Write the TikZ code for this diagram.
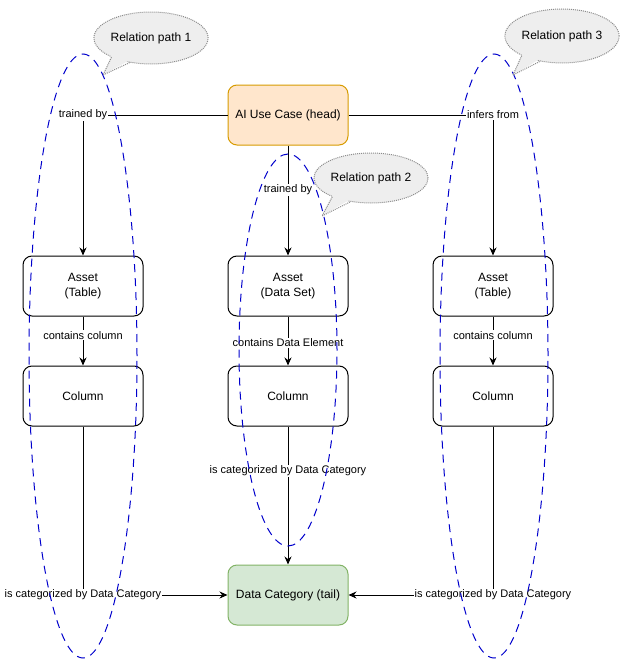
\documentclass[tikz,border=0pt]{standalone}
\usepackage{fontspec}
\setmainfont{Liberation Sans}
\usetikzlibrary{arrows.meta,shapes.geometric,calc}
\definecolor{headfill}{HTML}{FFE6CC}
\definecolor{headdraw}{HTML}{D79B00}
\definecolor{tailfill}{HTML}{D5E8D4}
\definecolor{taildraw}{HTML}{82B366}
\definecolor{pathblue}{HTML}{0000CC}
\definecolor{callfill}{HTML}{EEEEEE}
\definecolor{calldraw}{HTML}{8C8C8C}
\begin{document}
\begin{tikzpicture}[x=1pt,y=-1pt,
 box/.style={draw=black, rounded corners=9pt, minimum width=120pt, minimum height=60pt, align=center, font=\fontsize{12}{15}\selectfont, line width=1pt, inner sep=0},
 lbl/.style={fill=white, font=\fontsize{11}{13}\selectfont, inner sep=1pt},
 conn/.style={draw, line width=1pt, -{Stealth[length=8pt,width=7pt]}},
 pathring/.style={draw=pathblue, dash pattern=on 8pt off 6pt, ellipse, inner sep=0, line width=1pt},
 bubble/.style={ellipse, fill=callfill, draw=calldraw, dash pattern=on 1pt off 1pt, line width=1pt, minimum width=108pt, minimum height=52pt, font=\fontsize{12}{14}\selectfont, inner sep=0},
 tailline/.style={draw=calldraw, dash pattern=on 1pt off 1pt, line width=1pt}
]
\useasboundingbox (0,0) rectangle (629,661);

% nodes
\node[box, fill=headfill, draw=headdraw] (head) at (288,115) {AI Use Case (head)};
\node[box] (assetL) at (83,286) {Asset\\(Table)};
\node[box] (assetM) at (288,286) {Asset\\(Data Set)};
\node[box] (assetR) at (493,286) {Asset\\(Table)};
\node[box] (colL) at (83,396) {Column};
\node[box] (colM) at (288,396) {Column};
\node[box] (colR) at (493,396) {Column};
\node[box, fill=tailfill, draw=taildraw] (tail) at (288,595) {Data Category (tail)};

% connectors
\draw[conn] (head.west) -| node[lbl, pos=0.5] {trained by} (assetL.north);
\draw[conn] (head.east) -| node[lbl, pos=0.5] {infers from} (assetR.north);
\draw[conn] (head.south) -- node[lbl, pos=0.405] {trained by} (assetM.north);
\draw[conn] (assetL.south) -- node[lbl, pos=0.38] {contains column} (colL.north);
\draw[conn] (assetM.south) -- node[lbl, pos=0.54] {contains Data Element} (colM.north);
\draw[conn] (assetR.south) -- node[lbl, pos=0.38] {contains column} (colR.north);
\draw[conn] (colL.south) |- node[lbl, pos=0.5] {is categorized by Data Category} (tail.west);
\draw[conn] (colR.south) |- node[lbl, pos=0.5] {is categorized by Data Category} (tail.east);
\draw[conn] (colM.south) -- node[lbl, pos=0.32] {is categorized by Data Category} (tail.north);

% relation path rings
\node[pathring, minimum width=108pt, minimum height=604pt] (ringL) at (83,356) {};
\node[pathring, minimum width=98pt, minimum height=392pt] (ringM) at (288,350) {};
\node[pathring, minimum width=108pt, minimum height=604pt] (ringR) at (494,356) {};

% callouts
\node[bubble] (c1) at (151,38) {Relation path 1};
\coordinate (c1tip) at (103,75);
\fill[callfill] ($(c1.206)+(0.5,-2.5)$) -- (c1tip) -- ($(c1.229)+(0,-2.5)$) -- cycle;
\draw[tailline] (c1.206) -- (c1tip) -- (c1.229);

\node[bubble, minimum height=50pt] (c2) at (371,178) {Relation path 2};
\coordinate (c2tip) at (322,216);
\fill[callfill] ($(c2.206)+(0.5,-2.5)$) -- (c2tip) -- ($(c2.229)+(0,-2.5)$) -- cycle;
\draw[tailline] (c2.206) -- (c2tip) -- (c2.229);

\node[bubble, minimum height=54pt] (c3) at (562,36) {Relation path 3};
\coordinate (c3tip) at (513,75);
\fill[callfill] ($(c3.206)+(0.5,-2.5)$) -- (c3tip) -- ($(c3.229)+(0,-2.5)$) -- cycle;
\draw[tailline] (c3.206) -- (c3tip) -- (c3.229);
\end{tikzpicture}
\end{document}
